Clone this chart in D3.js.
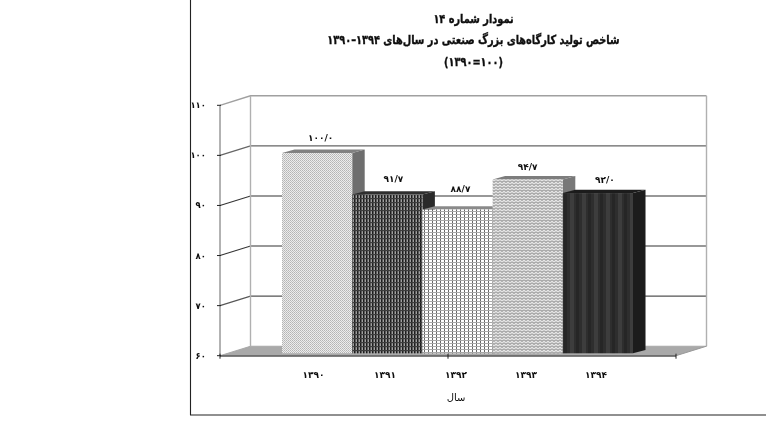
<!DOCTYPE html>
<html><head><meta charset="utf-8">
<script src="https://cdn.jsdelivr.net/npm/d3@7/dist/d3.min.js"></script>
<style>
html,body{margin:0;padding:0;background:#fff;overflow:hidden}
svg{display:block}
text{font-family:"DejaVu Sans",sans-serif;fill:#111}
</style></head><body>
<div id="chart"></div>
<script>
const years = ["۱۳۹۰","۱۳۹۱","۱۳۹۲","۱۳۹۳","۱۳۹۴"];
const values = [100.0, 91.7, 88.7, 94.7, 92.0];
const valueLabels = ["۱۰۰/۰","۹۱/۷","۸۸/۷","۹۴/۷","۹۲/۰"];
const yTicks = [60,70,80,90,100,110];
const yTickLabels = ["۶۰","۷۰","۸۰","۹۰","۱۰۰","۱۱۰"];
const titleLines = ["نمودار شماره ۱۴","شاخص تولید کارگاه‌های بزرگ صنعتی در سال‌های ۱۳۹۴–۱۳۹۰","(۱۰۰=۱۳۹۰)"];
const xTitle = "سال";

const W=766,H=446;
const svg=d3.select("#chart").append("svg").attr("width",W).attr("height",H).attr("viewBox",`0 0 ${W} ${H}`);
const defs=svg.append("defs");
defs.append("filter").attr("id","soft").attr("x","-2%").attr("y","-2%").attr("width","104%").attr("height","104%")
  .append("feGaussianBlur").attr("stdDeviation",0.42);

function pattern(id,w,h,bg,draw){
  const p=defs.append("pattern").attr("id",id).attr("patternUnits","userSpaceOnUse").attr("width",w).attr("height",h);
  p.append("rect").attr("width",w).attr("height",h).attr("fill",bg);
  draw(p);
}
pattern("p0",2,2,"#ececec",p=>{p.append("rect").attr("width",1).attr("height",1).attr("fill","#b4b4b4");p.append("rect").attr("x",1).attr("y",1).attr("width",1).attr("height",1).attr("fill","#c0c0c0")});
pattern("p1",3,4,"#5c5c5c",p=>{p.append("rect").attr("width",1).attr("height",4).attr("fill","#1a1a1a");p.append("rect").attr("x",2).attr("width",.7).attr("height",4).attr("fill","#bdbdbd");p.append("rect").attr("y",2).attr("width",3).attr("height",1.2).attr("fill","#3c3c3c")});
pattern("p2",4,3,"#ffffff",p=>{p.append("rect").attr("width",.9).attr("height",3).attr("fill","#555");p.append("rect").attr("y",1).attr("width",4).attr("height",1).attr("fill","#a8a8a8")});
pattern("p3",4,3,"#e4e4e4",p=>p.append("path").attr("d","M0 .5L2 2.5L4 .5").attr("fill","none").attr("stroke","#747474").attr("stroke-width",1));
pattern("p4",12,3,"#2e2e2e",p=>{p.append("rect").attr("width",3).attr("height",3).attr("fill","#262626");p.append("rect").attr("x",6).attr("width",4).attr("height",3).attr("fill","#3c3c3c")});

const y=d3.scaleLinear().domain([60,110]).range([355.7,105.3]);
const x=d3.scaleBand().domain(years).range([282,633]);
const wall={x0:220,x1:676,dx:30.5,dy:9.5};
const bar={dx:12.5,dy:3.4,zy:-2.4};
const sides=["#6e6e6e","#2c2c2c","#8a8a8a","#787878","#1c1c1c"];
const tops=["#808080","#2f2f2f","#8a8a8a","#7d7d7d","#1e1e1e"];
const labelDx=[3.5,6,3,0,7];
const labelDy=[15,15.5,20.5,12.5,13.5];
const catLabelX=[313.5,385,456,526,596];

const root=svg.append("g").attr("filter","url(#soft)");
root.append("path").attr("d",`M190.5 0V415H${W}`).attr("fill","none").attr("stroke","#222").attr("stroke-width",1.1);

root.append("path").attr("fill","#a9a9a9")
 .attr("d",`M${wall.x0} ${y(60)}L${wall.x0+wall.dx} ${y(60)-wall.dy}H${wall.x1+wall.dx}L${wall.x1} ${y(60)}Z`);
const g=root.append("g").attr("fill","none");
yTicks.forEach(t=>{
  const col=(t===110)?"#a0a0a0":(t===100?"#666":(t===70?"#555":"#333"));
  g.append("path").attr("d",`M${wall.x0} ${y(t)}L${wall.x0+wall.dx} ${y(t)-wall.dy}H${wall.x1+wall.dx}`).attr("stroke",t===60?"#a9a9a9":col).attr("stroke-width",t>=100?1.4:1.1);
});
g.append("path").attr("d",`M${wall.x0+wall.dx} ${y(110)-wall.dy}V${y(60)-wall.dy}`).attr("stroke","#b0b0b0").attr("stroke-width",1.4);
g.append("path").attr("d",`M${wall.x1+wall.dx} ${y(110)-wall.dy}V${y(60)-wall.dy}`).attr("stroke","#b0b0b0").attr("stroke-width",1.4);
g.append("path").attr("d",`M${wall.x1+wall.dx} ${y(60)-wall.dy}L${wall.x1} ${y(60)}`).attr("stroke","#999");
g.append("path").attr("d",`M${wall.x0} ${y(110)}V${y(60)}`).attr("stroke","#666");
g.append("path").attr("d",`M${wall.x0} ${y(60)+.3}H${wall.x1}`).attr("stroke","#555").attr("stroke-width",1.6);
yTicks.forEach(t=>g.append("path").attr("d",`M${wall.x0-3} ${y(t)}H${wall.x0+1}`).attr("stroke","#222").attr("stroke-width",1));
[0,0.5,1].forEach(f=>{const tx=wall.x0+(wall.x1-wall.x0)*f;g.append("path").attr("d",`M${tx} ${y(60)-2}V${y(60)+3}`).attr("stroke","#222")});

const bars=root.append("g").selectAll("g").data(values).join("g");
bars.each(function(v,i){
  const s=d3.select(this),l=x(years[i]),r=l+x.bandwidth(),t=y(v)+bar.zy,b=y(60)+bar.zy;
  s.append("path").attr("fill",sides[i]).attr("d",`M${r} ${t}l${bar.dx} ${-bar.dy}V${b-bar.dy}L${r} ${b}Z`);
  s.append("path").attr("fill",tops[i]).attr("d",`M${l} ${t}l${bar.dx} ${-bar.dy}H${r+bar.dx}L${r} ${t}Z`);
  s.append("rect").attr("x",l).attr("y",t).attr("width",x.bandwidth()).attr("height",b-t).attr("fill",`url(#p${i})`);
});
root.append("g").selectAll("text").data(values).join("text")
 .attr("x",(d,i)=>x(years[i])+x.bandwidth()/2+labelDx[i])
 .attr("y",(d,i)=>y(d)+bar.zy+3-labelDy[i])
 .attr("text-anchor","middle").attr("font-size",9).attr("font-weight","bold").attr("direction","rtl")
 .text((d,i)=>valueLabels[i]);
root.append("g").selectAll("text").data(yTicks).join("text")
 .attr("x",206).attr("y",d=>y(d)+3).attr("text-anchor","end").attr("font-size",8.5).attr("font-weight","bold")
 .text((d,i)=>yTickLabels[i]);
root.append("g").selectAll("text").data(years).join("text")
 .attr("x",(d,i)=>catLabelX[i]).attr("y",378).attr("text-anchor","middle").attr("font-size",9).attr("font-weight","bold").text(d=>d);
root.append("text").attr("x",456).attr("y",401).attr("text-anchor","middle").attr("font-size",10).attr("direction","rtl").text(xTitle);
root.append("g").selectAll("text").data(titleLines).join("text")
 .attr("transform",(d,i)=>`translate(473.5,${[23,44,66][i]}) scale(.85,1.08)`)
 .attr("text-anchor","middle").attr("font-size",11.5).attr("font-weight","bold").attr("direction","rtl")
 .attr("stroke","#111").attr("stroke-width",.35).text(d=>d);
</script></body></html>
